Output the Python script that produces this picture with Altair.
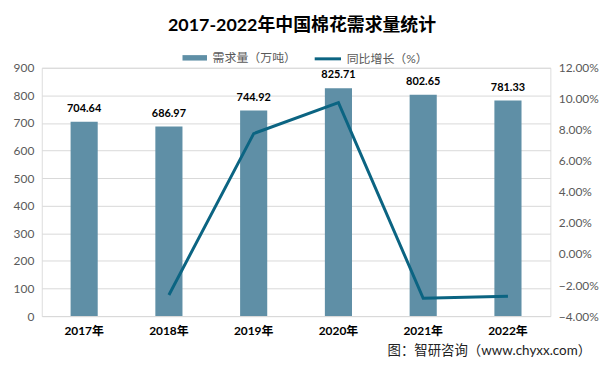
import altair as alt
import pandas as pd

years = ["2017年", "2018年", "2019年", "2020年", "2021年", "2022年"]
demand = [704.64, 686.97, 744.92, 825.71, 802.65, 781.33]
growth_pct = [None, -2.64, 7.76, 9.76, -2.85, -2.72]
left_ticks = [0, 100, 200, 300, 400, 500, 600, 700, 800, 900]
right_ticks_pct = [-4, -2, 0, 2, 4, 6, 8, 10, 12]
title_text = "2017-2022年中国棉花需求量统计"
source_text = "图：智研咨询（www.chyxx.com）"
bar_name = "需求量（万吨）"
line_name = "同比增长（%）"

FONT = "Lato, 'Noto Sans CJK SC', sans-serif"
BAR_COLOR = "#5F8FA6"
LINE_COLOR = "#0B6482"

df = pd.DataFrame({
    "year": years,
    "demand": demand,
    "growth": [g / 100 if g is not None else None for g in growth_pct],
    "s1": bar_name,
    "s2": line_name,
})

W, H = 512, 250

x = alt.X("year:N", sort=years, title=None,
          scale=alt.Scale(paddingInner=0.68, paddingOuter=0.34),
          axis=alt.Axis(labelAngle=0, labelFontWeight="bold", labelColor="#000000",
                        labelFontSize=12, domain=False, ticks=False, labelPadding=10,
                        labelFont=FONT))

y_left = alt.Y("demand:Q", title=None,
               scale=alt.Scale(domain=[0, 900], nice=False),
               axis=alt.Axis(values=left_ticks, domain=False, ticks=False,
                             labelOverlap=False, tickCount=10,
                             labelColor="#595959", labelFontSize=12, labelPadding=8,
                             gridColor="#D9D9D9", labelFont=FONT))

base = alt.Chart(df)

bars = base.mark_bar().encode(
    x=x,
    y=y_left,
    fill=alt.Fill("s1:N", scale=alt.Scale(domain=[bar_name], range=[BAR_COLOR]),
                  legend=alt.Legend(title=None, orient="none", legendX=140, legendY=-24,
                                    symbolType="M-0.9,-0.2H0.9V0.2H-0.9Z", symbolSize=750,
                                    labelOffset=4,
                                    labelFontSize=12, labelColor="#595959", labelFont=FONT,
                                    symbolStrokeWidth=0)),
)

labels = base.mark_text(dy=-13, fontSize=11, fontWeight="bold", color="#000000",
                        font=FONT).encode(
    x=x,
    y=y_left,
    text=alt.Text("demand:Q", format=".2f"),
)

left = alt.layer(bars, labels)

line = base.transform_filter("isValid(datum.growth)").mark_line(strokeWidth=3).encode(
    x=x,
    y=alt.Y("growth:Q", title=None,
            scale=alt.Scale(domain=[-0.04, 0.12], nice=False),
            axis=alt.Axis(orient="right", format=".2%",
                          values=[v / 100 for v in right_ticks_pct],
                          labelOverlap=False,
                          domain=False, ticks=False, grid=False,
                          labelColor="#595959", labelFontSize=12, labelPadding=8,
                          labelFont=FONT)),
    stroke=alt.Stroke("s2:N", scale=alt.Scale(domain=[line_name], range=[LINE_COLOR]),
                      legend=alt.Legend(title=None, orient="none", legendX=273, legendY=-24,
                                        symbolType="stroke", symbolSize=700,
                                        symbolStrokeWidth=3,
                                        labelFontSize=12, labelColor="#595959",
                                        labelFont=FONT)),
)

title = alt.Chart(pd.DataFrame({"t": [title_text]})).mark_text(
    fontSize=18, fontWeight="bold", color="#000000", font=FONT,
    align="center", baseline="middle").encode(
    x=alt.value(262), y=alt.value(-42), text="t:N")

source = alt.Chart(pd.DataFrame({"t": [source_text]})).mark_text(
    fontSize=13.5, color="#222222", font=FONT,
    align="right", baseline="middle").encode(
    x=alt.value(553), y=alt.value(285), text="t:N")

chart = alt.layer(left, line, title, source).resolve_scale(
    y="independent", fill="independent", stroke="independent"
).properties(
    width=W, height=H,
    autosize=alt.AutoSizeParams(type="none"),
    padding={"left": 34, "top": 59, "right": 50, "bottom": 40},
).configure_view(stroke=None).configure(font=FONT)

chart.save("out.html", embed_options={"renderer": "svg", "actions": False})
